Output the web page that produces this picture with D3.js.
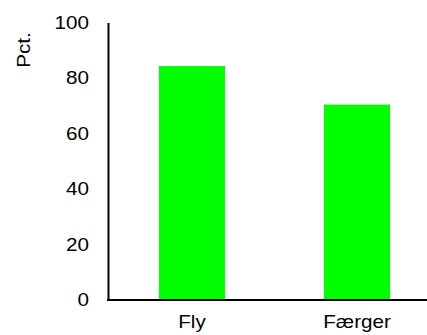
<!DOCTYPE html>
<html>
<head>
<meta charset="utf-8">
<script src="https://cdn.jsdelivr.net/npm/d3@7/dist/d3.min.js"></script>
<style>
  html, body { margin: 0; padding: 0; background: #fff; }
  svg { display: block; font-family: "Liberation Sans", Arial, sans-serif; }
</style>
</head>
<body>
<svg id="chart" width="427" height="335"></svg>
<script>
// Share of travellers, per mode of transport
const categories = ["Fly", "Færger"];
const values = [84.3, 70.4];
const yTicks = [0, 20, 40, 60, 80, 100];
const yTitle = "Pct.";

const svg = d3.select("#chart");
const W = 427;
const FONT = 17.5;
const WIDEN = 1.18; // labels are set a little wide

const y = d3.scaleLinear().domain([0, 100]).range([300, 22.5]);
const x = d3.scaleBand()
  .domain(categories)
  .range([109.5, 439.5])
  .paddingInner(0.6)
  .paddingOuter(0.3);

// Bars
svg.append("g")
  .selectAll("rect")
  .data(categories)
  .join("rect")
  .attr("x", d => x(d))
  .attr("width", x.bandwidth())
  .attr("y", (d, i) => y(values[i]))
  .attr("height", (d, i) => y(0) - y(values[i]))
  .attr("fill", "#00ff00");

// Y axis: line plus labels, no tick marks
const yAxis = svg.append("g")
  .attr("transform", "translate(108,0)")
  .call(d3.axisLeft(y).tickValues(yTicks).tickSize(0).tickFormat(d3.format("d")));
yAxis.select(".domain").attr("stroke", "#000").attr("stroke-width", 2);
yAxis.selectAll(".tick text")
  .attr("x", 0)
  .attr("transform", `translate(-19,0) scale(${WIDEN},1)`)
  .attr("font-size", FONT)
  .attr("fill", "#000")
  .attr("font-family", "Liberation Sans, Arial, sans-serif");

// X axis baseline running to the right edge
svg.append("line")
  .attr("x1", 107).attr("x2", W)
  .attr("y1", y(0)).attr("y2", y(0))
  .attr("stroke", "#000").attr("stroke-width", 2);

// Category labels
svg.append("g")
  .selectAll("text")
  .data(categories)
  .join("text")
  .attr("transform", d => `translate(${x(d) + x.bandwidth() / 2},328) scale(${WIDEN},1)`)
  .attr("text-anchor", "middle")
  .attr("font-size", FONT)
  .attr("fill", "#000")
  .text(d => d);

// Y axis title
svg.append("text")
  .attr("transform", `translate(30,50) rotate(-90) scale(${WIDEN},1)`)
  .attr("text-anchor", "middle")
  .attr("font-size", FONT)
  .attr("fill", "#000")
  .text(yTitle);
</script>
</body>
</html>
